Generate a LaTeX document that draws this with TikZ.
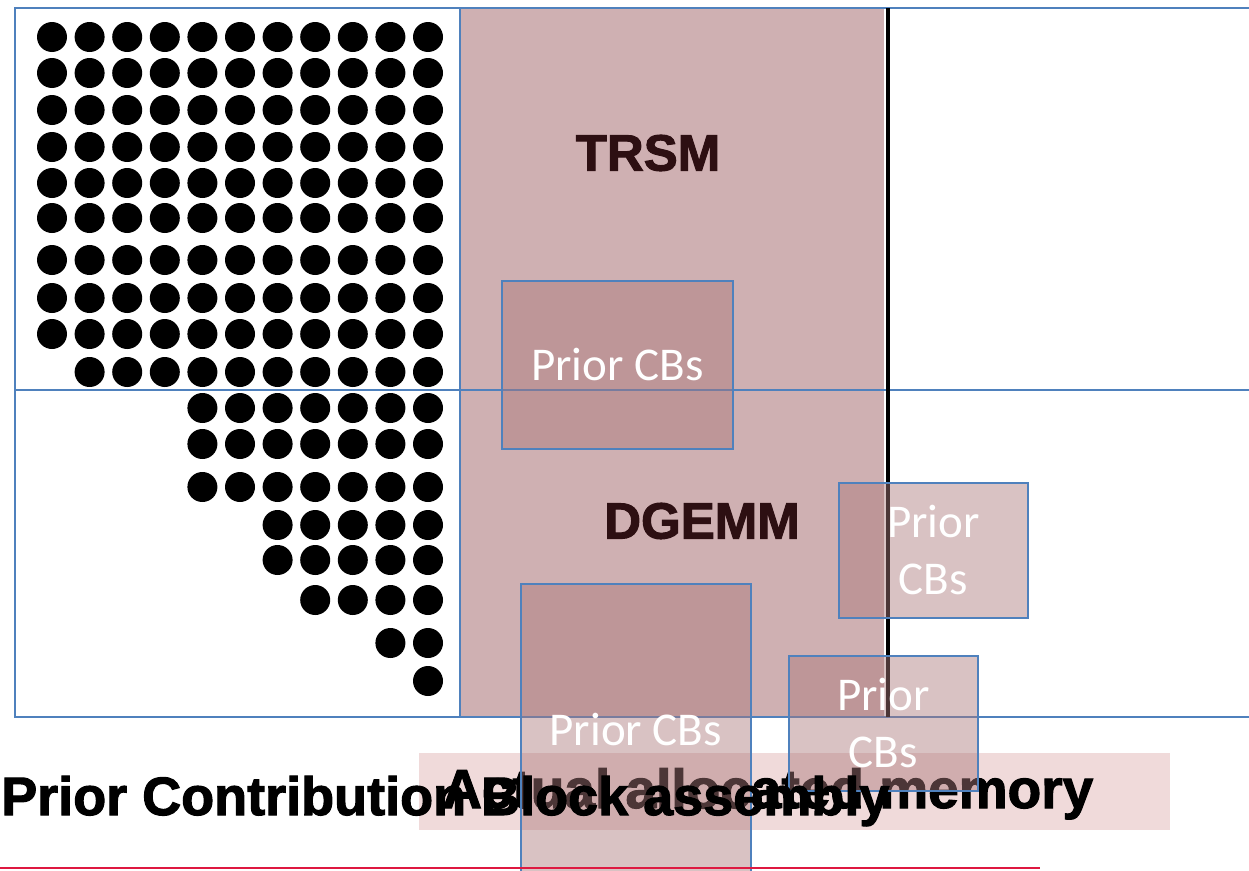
\documentclass[tikz,border=0pt]{standalone}
\usepackage{fontspec}
\setmainfont{Liberation Sans}
\newfontfamily\heavyfont[BoldFeatures={FakeBold=2}]{Liberation Sans}
\newfontfamily\cbfont{Carlito}
\definecolor{gridblue}{RGB}{79,129,189}
\definecolor{memfill}{RGB}{207,176,178}
\definecolor{cbfill}{RGB}{170,120,122}
\definecolor{bandfill}{RGB}{240,218,218}
\definecolor{opdark}{RGB}{45,15,18}
\definecolor{rule}{RGB}{222,24,64}
\begin{document}
\begin{tikzpicture}[
            x=1pt, y=-1pt,
            gridline/.style={draw=gridblue, line width=1.8pt},
            opname/.style={font=\heavyfont\bfseries\fontsize{51}{61}\selectfont, text=opdark, inner sep=0pt},
            cbbox/.style={draw=gridblue, line width=1.6pt, fill=cbfill, fill opacity=0.45,
                text opacity=1, text=white, font=\cbfont\fontsize{47}{57}\selectfont,
                align=center, inner sep=0pt, anchor=north west},
            bigtext/.style={font=\heavyfont\bfseries\fontsize{54}{64}\selectfont, inner sep=0pt, anchor=base west}
        ]

            \clip (0,0) rectangle (1249,870);

            % --- Blocco di memoria (TRSM / DGEMM) ---
            \node[fill=memfill, inner sep=0pt, anchor=north west,
                minimum width=423pt, minimum height=709pt] (mem) at (461,8) {};

            % --- Griglia della matrice ---
            \draw[gridline] (15,8) rectangle (460,390);
            \draw[gridline] (15,390) rectangle (460,717);
            \draw[gridline] (460,8) rectangle (888,390);
            \draw[gridline] (460,390) rectangle (888,717);
            \draw[gridline] (888,8) rectangle (1260,390);
            \draw[gridline] (888,390) rectangle (1260,717);
            \draw[line width=4pt] (888,8) -- (888,717);

            % Punti della parte triangolare
            \foreach \y/\s in {37/1, 73/1, 110/1, 147/1, 183/1, 218/1, 260/1, 298/1, 334/1,
                372/2, 408/5, 444/5, 487/5, 525/7, 560/7, 600/8, 643/10, 681/11}
                \foreach \c in {\s,...,11}
                    \fill ({52+37.6*(\c-1)}, \y) circle[radius=15pt];

            % Testi interni
            \node[opname] (trsm) at (648,153) {TRSM};
            \node[opname] (dgemm) at (702,521) {DGEMM};

            % --- Memoria allocata ---
            \node[fill=bandfill, inner sep=0pt, anchor=north west,
                minimum width=751pt, minimum height=77pt] (band) at (419,753) {};
            \node[bigtext, font=\heavyfont\bfseries\fontsize{55}{66}\selectfont] (actual) at (442,808) {Actual allocated memory};

            % --- Contribution blocks precedenti ---
            \node[cbbox, minimum width=231pt, minimum height=168pt] (cb1) at (501,280) {Prior CBs};
            \node[cbbox, minimum width=189pt, minimum height=135pt] (cb2) at (838,482) {Prior\\CBs};
            \node[cbbox, minimum width=189pt, minimum height=135pt] (cb3) at (788,655) {Prior\\CBs};
            \node[cbbox, minimum width=230pt, minimum height=292pt] (cb4) at (520,583) {Prior CBs};

            % --- Titolo in basso ---
            \node[bigtext] (title) at (1,815) {Prior Contribution Block assembly};
            \draw[rule, line width=2.5pt] (0,868) -- (1040,868);

    \end{tikzpicture}
\end{document}
